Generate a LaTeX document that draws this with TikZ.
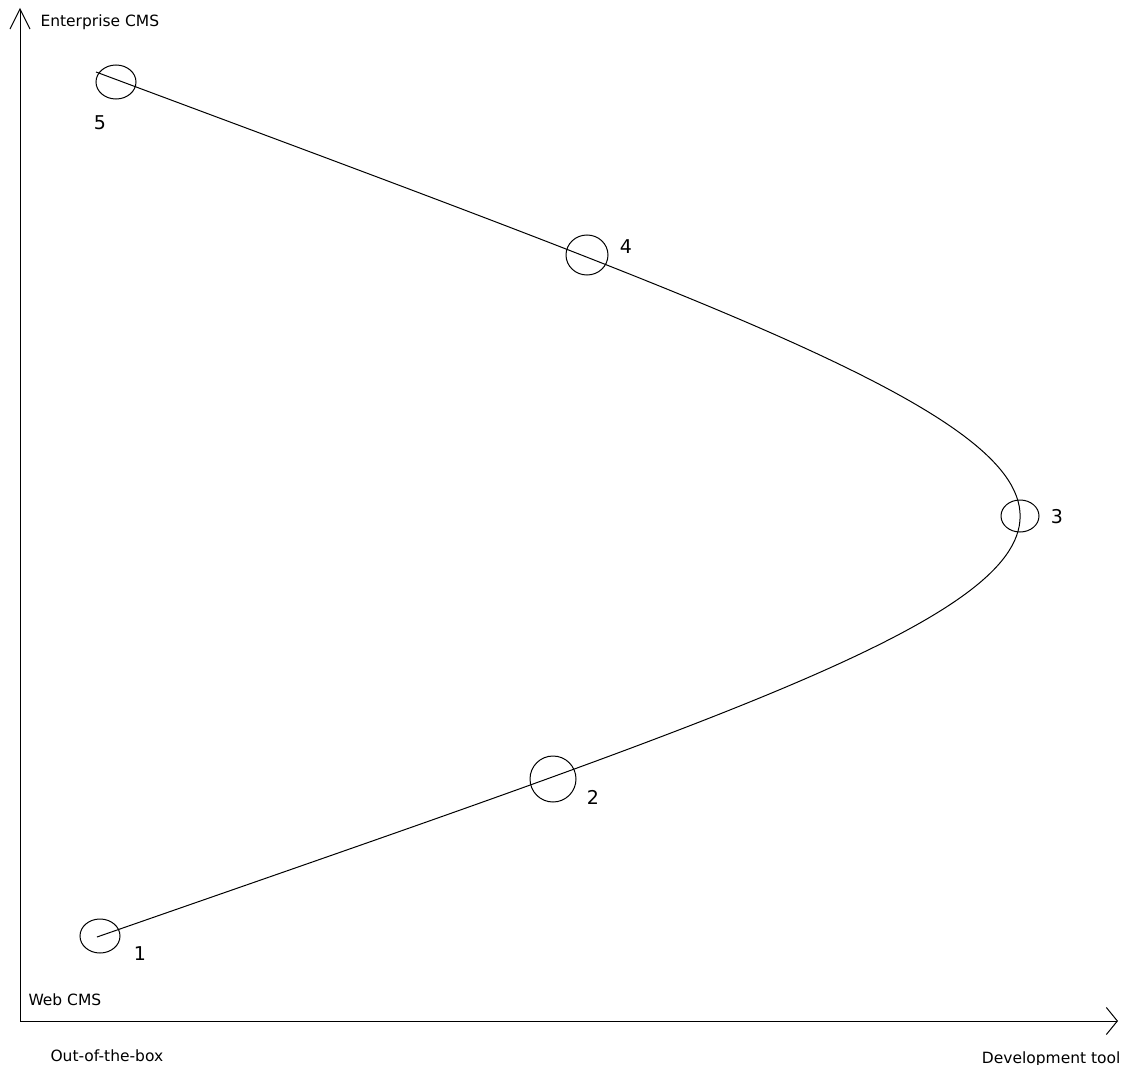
\documentclass[tikz,border=0pt]{standalone}
\usepackage{fontspec}
\setmainfont{DejaVu Sans}
\usetikzlibrary{shapes.geometric,arrows.meta}
\begin{document}
\begin{tikzpicture}[x=1pt,y=-1pt,line width=1pt,
  mark circle/.style={draw,ellipse,inner sep=0pt},
  axis label/.style={inner sep=0pt,font=\fontsize{15.5}{18}\selectfont},
  num label/.style={inner sep=0pt,font=\fontsize{19}{22}\selectfont}]
\useasboundingbox[fill=white] (0,0) rectangle (1122,1065);
% axes
\coordinate (o) at (20,1021);
\coordinate (ytop) at (20,8);
\coordinate (xend) at (1118,1021);
\draw[-{Straight Barb[length=20pt,width=20pt,line width=1pt]}] (o) -- (ytop);
\draw[-{Straight Barb[length=11pt,width=27pt,line width=1pt]}] (o) -- (xend);
% axis labels
\node[axis label,anchor=base west] (ent) at (40,27) {Enterprise CMS};
\node[axis label,anchor=base west] (web) at (28,1005) {Web CMS};
\node[axis label,anchor=base west] (oob) at (50,1061) {Out-of-the-box};
\node[axis label,anchor=base east] (dev) at (1121,1063) {Development tool};
% circles
\node[mark circle,minimum width=40pt,minimum height=34pt] (c1) at (100,936) {};
\node[mark circle,minimum width=46pt,minimum height=46pt] (c2) at (553,779) {};
\node[mark circle,minimum width=38pt,minimum height=32pt] (c3) at (1020,516) {};
\node[mark circle,minimum width=42pt,minimum height=40pt] (c4) at (587,255) {};
\node[mark circle,minimum width=40pt,minimum height=34pt] (c5) at (116,82) {};
% curve
\coordinate (p1) at (97,937);
\coordinate (p5) at (96,72);
\draw (p1) .. controls (1328,508) and (1328,532) .. (p5);
% numbers
\node[num label] (n1) at (140,954) {1};
\node[num label] (n2) at (593,797) {2};
\node[num label] (n3) at (1057,517) {3};
\node[num label] (n4) at (626,247) {4};
\node[num label] (n5) at (100,123) {5};
\end{tikzpicture}
\end{document}
